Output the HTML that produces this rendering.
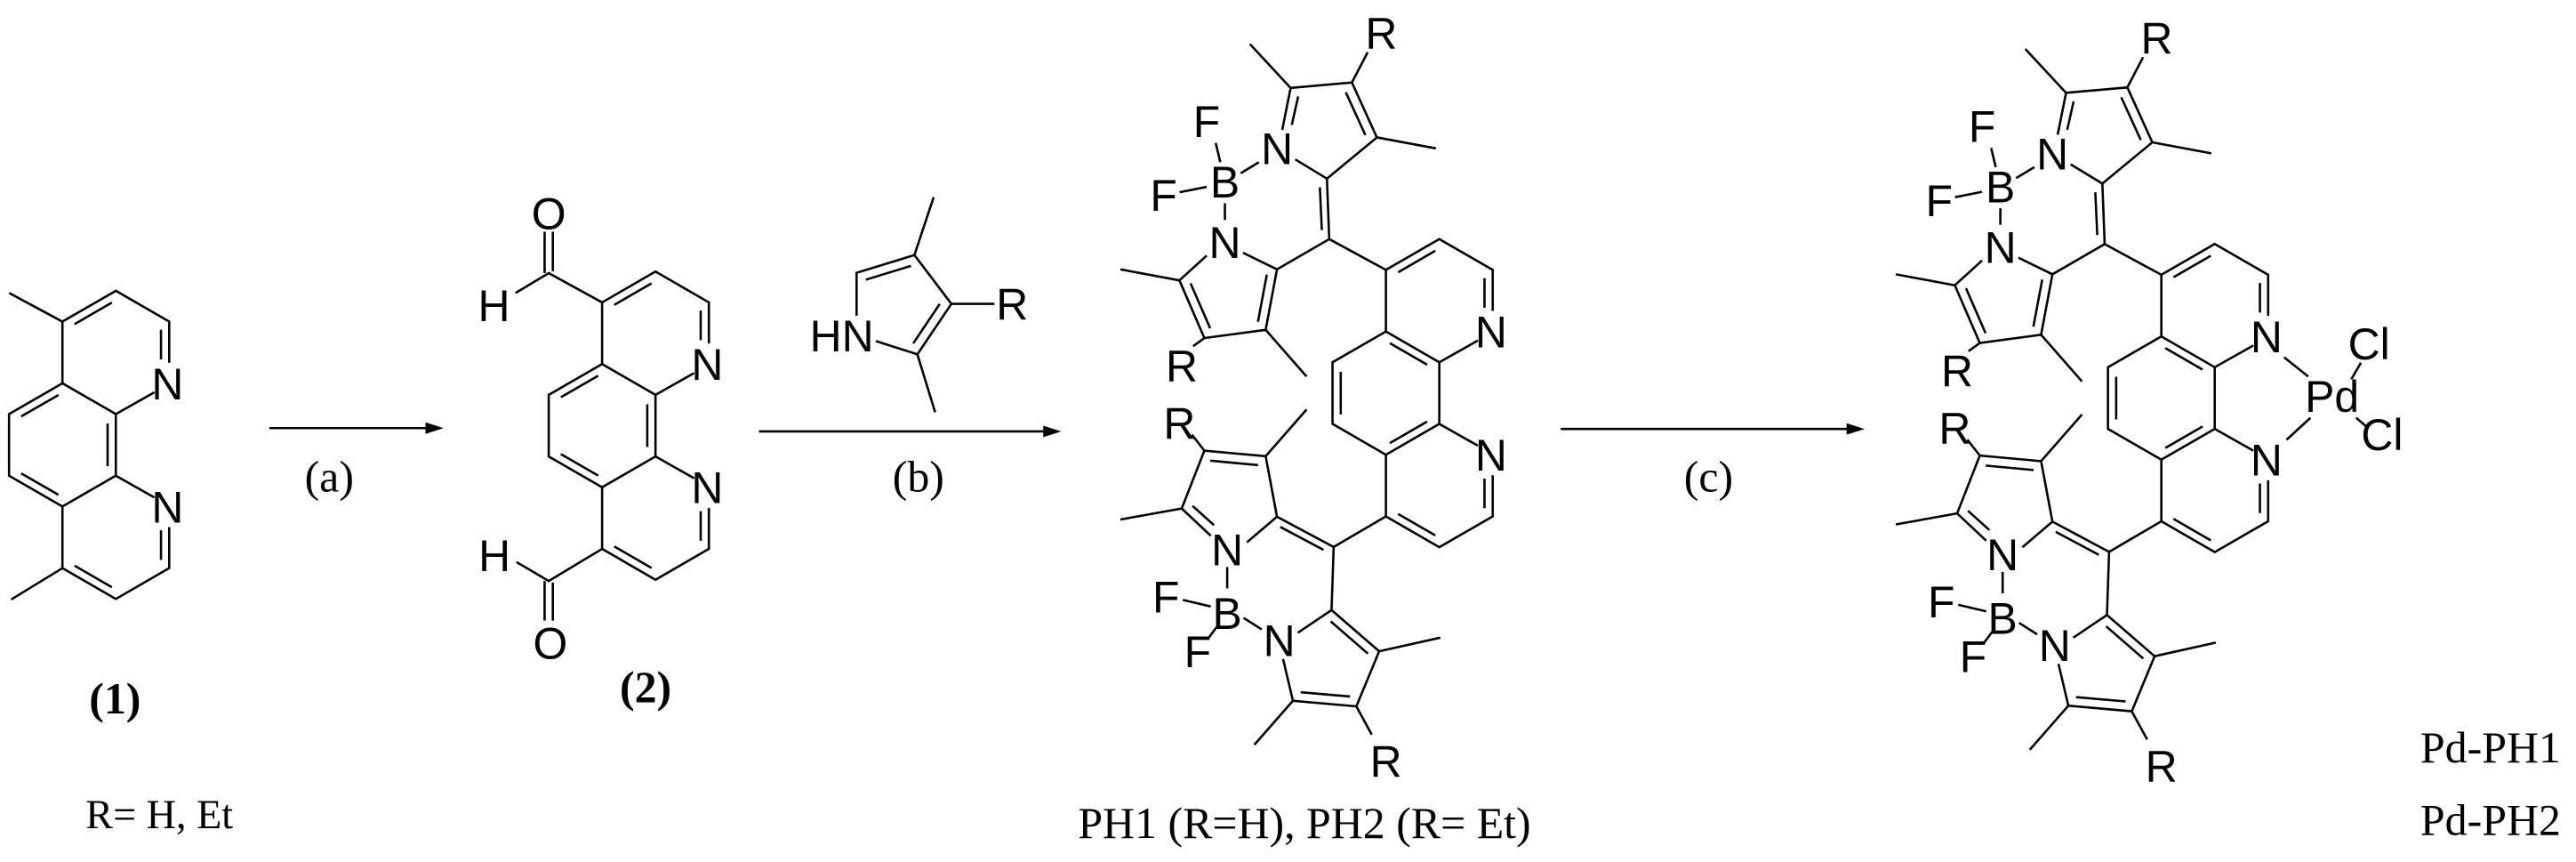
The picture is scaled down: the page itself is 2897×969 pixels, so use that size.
<!DOCTYPE html>
<html><head><meta charset="utf-8"><style>
html,body{margin:0;padding:0;background:#fff;}
svg{display:block;}
.a{font-family:"Liberation Sans",Arial,sans-serif;font-size:27px;text-anchor:middle;fill:#000;}
.s{font-family:"Liberation Serif","Times New Roman",serif;font-size:27px;text-anchor:middle;fill:#000;}
.b{font-weight:bold;}
path,line{stroke:#000;stroke-width:1.4;fill:none;stroke-linecap:butt;}
</style></head><body>
<svg width="2897" height="969" viewBox="0 0 1568 524.5" preserveAspectRatio="none" xmlns="http://www.w3.org/2000/svg">
<rect x="0" y="0" width="1568" height="524.5" fill="#fff"/>

<!-- Compound 1 -->
<g transform="translate(38,270.7)">
<path d="M0,-37.5 L0,-75 L32.5,-93.75 L65,-75 L65,-50 M56,-32 L32.5,-18.75 L0,-37.5 L-32.5,-18.75 L-32.5,18.75 L0,37.5 L32.5,18.75 L32.5,-18.75 M0,37.5 L0,75 L32.5,93.75 L65,75 L65,50 M56,32 L32.5,18.75"/>
<path d="M7.4,-73.5 L30.1,-86.6 M60,-70 L60,-52 M-2.4,-30.4 L-25.1,-17.3 M-25.1,17.3 L-2.4,30.4 M27.5,-13 L27.5,13 M7.4,73.5 L30.1,86.6 M60,70 L60,52"/>
<path d="M0,-75 L-32.4,-92.4 M0,75 L-31.2,94.1"/>
<text class="a" x="64" y="-27.8">N</text>
<text class="a" x="64" y="47.2">N</text>
</g>
<text class="s b" x="70" y="434">(1)</text>
<text class="s" x="97" y="504" style="font-size:25px">R= H, Et</text>

<!-- Arrow a -->
<line x1="164" y1="260.5" x2="262" y2="260.5"/>
<path d="M259,257 L270,260.5 L259,264 Z" style="fill:#000;stroke:none"/>
<text class="s" x="200.4" y="299">(a)</text>

<!-- Compound 2 -->
<g transform="translate(366.5,259)">
<path d="M0,-37.5 L0,-75 L32.5,-93.75 L65,-75 L65,-50 M56,-32 L32.5,-18.75 L0,-37.5 L-32.5,-18.75 L-32.5,18.75 L0,37.5 L32.5,18.75 L32.5,-18.75 M0,37.5 L0,75 L32.5,93.75 L65,75 L65,50 M56,32 L32.5,18.75"/>
<path d="M7.4,-73.5 L30.1,-86.6 M60,-70 L60,-52 M-2.4,-30.4 L-25.1,-17.3 M-25.1,17.3 L-2.4,30.4 M27.5,-13 L27.5,13 M7.4,73.5 L30.1,86.6 M60,70 L60,52"/>
<path d="M0,-75 L-32.5,-92.8 L-52.7,-80.7 M-35,-92.8 L-35,-118 M-30,-94 L-30,-118"/>
<path d="M0,75 L-32.5,94.5 L-52.1,83 M-35,94.5 L-35,118.6 M-30,95.5 L-30,118.6"/>
<text class="a" x="-32.5" y="-119.5">O</text>
<text class="a" x="-65.8" y="-63.7">H</text>
<text class="a" x="-31.5" y="141.7">O</text>
<text class="a" x="-65.5" y="88.5">H</text>
<text class="a" x="64" y="-27.8">N</text>
<text class="a" x="64" y="47.2">N</text>
</g>
<text class="s b" x="393" y="427">(2)</text>

<!-- Pyrrole reagent -->
<path d="M521.4,192.1 L521.4,166 L556.6,155.2 L579.1,184.9 L558.4,215.6 L533.1,207.5 M556.6,155.2 L568.3,120 M579.1,184.9 L605.3,184.9 M558.4,215.6 L569.2,250.8"/>
<path d="M527,170.2 L554.5,161.8 M572,185 L555.9,208.9"/>
<text class="a" x="512.4" y="213.7">HN</text>
<text class="a" x="616.1" y="194.6">R</text>

<!-- Arrow b -->
<line x1="462" y1="262.5" x2="638" y2="262.5"/>
<path d="M635,259 L646,262.5 L635,266 Z" style="fill:#000;stroke:none"/>
<text class="s" x="559" y="299">(b)</text>

<!-- PH1 -->
<g id="ph">
<g transform="translate(843.6,239.2)">
<path d="M0,-37.5 L0,-75 L32.5,-93.75 L65,-75 L65,-50 M56,-32 L32.5,-18.75 L0,-37.5 L-32.5,-18.75 L-32.5,18.75 L0,37.5 L32.5,18.75 L32.5,-18.75 M0,37.5 L0,75 L32.5,93.75 L65,75 L65,50 M56,32 L32.5,18.75"/>
<path d="M7.4,-73.5 L30.1,-86.6 M60,-70 L60,-52 M2.4,-30.4 L25.1,-17.3 M-27.5,-13 L-27.5,13 M2.4,30.4 L25.1,17.3 M7.4,73.5 L30.1,86.6 M60,70 L60,52"/>
<text class="a" x="64" y="-27.8">N</text>
<text class="a" x="64" y="47.2">N</text>
</g>
<!-- top BODIPY -->
<path d="M843.6,164.2 L809.1,145.5 L807.7,108.7 M804.6,140 L803.4,114"/>
<path d="M807.7,108.7 L838.1,83.6 L822.9,50.2 L785.6,53.5 L780.5,79 M788.4,97 L807.7,108.7"/>
<path d="M831.1,82.2 L819.2,56.2 M790.2,58.7 L786.3,76"/>
<path d="M838.1,83.6 L874,90.3 M822.9,50.2 L832.5,31.8 M785.6,53.5 L760.8,26.8"/>
<path d="M755.2,105.4 L766.3,98.7 M740,87 L742.8,98.7 M718,117 L734.5,113.7 M745.6,123.7 L745.6,133.8"/>
<path d="M809.1,145.5 L777.3,163.9 L770.4,200.7 L733.1,205.7 L717.9,170.6 L734.5,155.5 M756.6,153.8 L777.3,163.9"/>
<path d="M771.1,167.1 L765.7,195.8 M736.6,199.7 L724.7,172.4"/>
<path d="M717.9,170.6 L682,163.9 M733.1,205.7 L726.2,210.7 M770.4,200.7 L795.3,229.1"/>
<text class="a" x="840.8" y="29.8">R</text>
<text class="a" x="777.3" y="100">N</text>
<text class="a" x="745.6" y="120.1">B</text>
<text class="a" x="734.5" y="83.3">F</text>
<text class="a" x="708.3" y="128.4">F</text>
<text class="a" x="745.6" y="156.9">N</text>
<text class="a" x="719.3" y="232.1">R</text>
<!-- bottom BODIPY -->
<path d="M843.6,314.2 L811.8,332.8 L777.3,314.4 M805.6,334.6 L779.3,320.6"/>
<path d="M759,330 L777.3,314.4 L770.4,277.6 L733.1,274.2 L719.3,309.4 L737,326"/>
<path d="M765.8,283 L736.7,280.3 M725.9,307.8 L738.9,319.5"/>
<path d="M733.1,274.2 L725.5,264.5 M770.4,277.6 L795.3,249.2 M719.3,309.4 L682,316.1"/>
<path d="M747,345 L747,358 M720,365 L737,369 M741,381 L735,389 M757,376 L768,383"/>
<path d="M811.8,332.8 L810.5,371.2 L839.5,396.3 L825.6,429.8 L787,426.4 L781,401 M790,385 L810.5,371.2"/>
<path d="M810,378.1 L832.6,397.7 M821.8,423.8 L791.7,421.2"/>
<path d="M839.5,396.3 L876.7,388 M825.6,429.8 L835,447 M787,426.4 L763.5,453.2"/>
<text class="a" x="717.9" y="267.2">R</text>
<text class="a" x="747" y="344.1">N</text>
<text class="a" x="747" y="382.6">B</text>
<text class="a" x="709.7" y="372.6">F</text>
<text class="a" x="729" y="406">F</text>
<text class="a" x="778.7" y="399.3">N</text>
<text class="a" x="843.6" y="472.9">R</text>
</g>
<text class="s" x="794" y="510">PH1 (R=H), PH2 (R= Et)</text>

<!-- Arrow c -->
<line x1="950" y1="261" x2="1127" y2="261"/>
<path d="M1124,257.5 L1135,261 L1124,264.5 Z" style="fill:#000;stroke:none"/>
<text class="s" x="1040" y="299">(c)</text>

<!-- Pd complex -->
<g transform="translate(472,3)">
<g transform="translate(843.6,239.2)">
<path d="M0,-37.5 L0,-75 L32.5,-93.75 L65,-75 L65,-50 M56,-32 L32.5,-18.75 L0,-37.5 L-32.5,-18.75 L-32.5,18.75 L0,37.5 L32.5,18.75 L32.5,-18.75 M0,37.5 L0,75 L32.5,93.75 L65,75 L65,50 M56,32 L32.5,18.75"/>
<path d="M7.4,-73.5 L30.1,-86.6 M60,-70 L60,-52 M2.4,-30.4 L25.1,-17.3 M-27.5,-13 L-27.5,13 M2.4,30.4 L25.1,17.3 M7.4,73.5 L30.1,86.6 M60,70 L60,52"/>
<text class="a" x="64" y="-27.8">N</text>
<text class="a" x="64" y="47.2">N</text>
</g>
<path d="M843.6,164.2 L809.1,145.5 L807.7,108.7 M804.6,140 L803.4,114"/>
<path d="M807.7,108.7 L838.1,83.6 L822.9,50.2 L785.6,53.5 L780.5,79 M788.4,97 L807.7,108.7"/>
<path d="M831.1,82.2 L819.2,56.2 M790.2,58.7 L786.3,76"/>
<path d="M838.1,83.6 L874,90.3 M822.9,50.2 L832.5,31.8 M785.6,53.5 L760.8,26.8"/>
<path d="M755.2,105.4 L766.3,98.7 M740,87 L742.8,98.7 M718,117 L734.5,113.7 M745.6,123.7 L745.6,133.8"/>
<path d="M809.1,145.5 L777.3,163.9 L770.4,200.7 L733.1,205.7 L717.9,170.6 L734.5,155.5 M756.6,153.8 L777.3,163.9"/>
<path d="M771.1,167.1 L765.7,195.8 M736.6,199.7 L724.7,172.4"/>
<path d="M717.9,170.6 L682,163.9 M733.1,205.7 L726.2,210.7 M770.4,200.7 L795.3,229.1"/>
<text class="a" x="840.8" y="29.8">R</text>
<text class="a" x="777.3" y="100">N</text>
<text class="a" x="745.6" y="120.1">B</text>
<text class="a" x="734.5" y="83.3">F</text>
<text class="a" x="708.3" y="128.4">F</text>
<text class="a" x="745.6" y="156.9">N</text>
<text class="a" x="719.3" y="232.1">R</text>
<path d="M843.6,314.2 L811.8,332.8 L777.3,314.4 M805.6,334.6 L779.3,320.6"/>
<path d="M759,330 L777.3,314.4 L770.4,277.6 L733.1,274.2 L719.3,309.4 L737,326"/>
<path d="M765.8,283 L736.7,280.3 M725.9,307.8 L738.9,319.5"/>
<path d="M733.1,274.2 L725.5,264.5 M770.4,277.6 L795.3,249.2 M719.3,309.4 L682,316.1"/>
<path d="M747,345 L747,358 M720,365 L737,369 M741,381 L735,389 M757,376 L768,383"/>
<path d="M811.8,332.8 L810.5,371.2 L839.5,396.3 L825.6,429.8 L787,426.4 L781,401 M790,385 L810.5,371.2"/>
<path d="M810,378.1 L832.6,397.7 M821.8,423.8 L791.7,421.2"/>
<path d="M839.5,396.3 L876.7,388 M825.6,429.8 L835,447 M787,426.4 L763.5,453.2"/>
<text class="a" x="717.9" y="267.2">R</text>
<text class="a" x="747" y="344.1">N</text>
<text class="a" x="747" y="382.6">B</text>
<text class="a" x="709.7" y="372.6">F</text>
<text class="a" x="729" y="406">F</text>
<text class="a" x="778.7" y="399.3">N</text>
<text class="a" x="843.6" y="472.9">R</text>
</g>
<path d="M1390.3,217.4 L1405,229.1 M1391.8,267.6 L1406.4,254.2 M1431.2,230.8 L1437.1,220.7 M1434.2,254.2 L1440,259.2"/>
<text class="a" x="1419.5" y="250.5">Pd</text>
<text class="a" x="1442" y="218.7">Cl</text>
<text class="a" x="1450" y="273.9">Cl</text>
<text class="s" x="1516" y="464">Pd-PH1</text>
<text class="s" x="1516" y="508">Pd-PH2</text>
</svg>
</body></html>
